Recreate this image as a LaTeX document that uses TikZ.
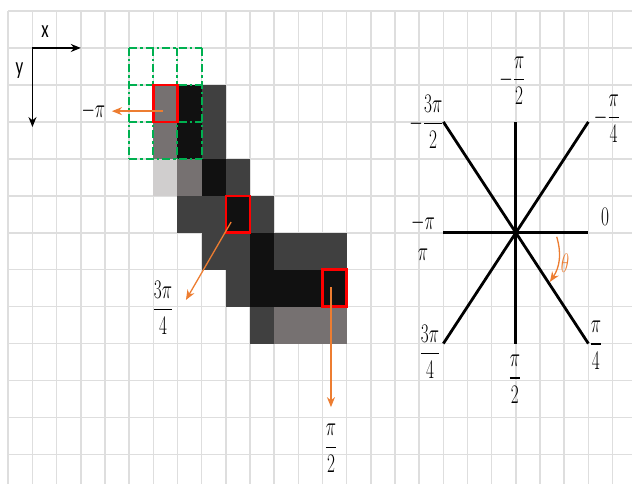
\documentclass[tikz,border=0pt]{standalone}
\usepackage{amsmath}
\usepackage{fontspec}
\newfontfamily\axisfont{Carlito}
\usetikzlibrary{arrows.meta}

\definecolor{pixK}{HTML}{111111}
\definecolor{pixD}{HTML}{404040}
\definecolor{pixM}{HTML}{767171}
\definecolor{pixL}{HTML}{D0CECE}
\definecolor{gridgray}{HTML}{DEDEDE}
\definecolor{boxgreen}{HTML}{00B050}
\definecolor{gradorange}{HTML}{ED7D31}

\begin{document}
\begin{tikzpicture}[x=24.17pt,y=-36.95pt,
  gridline/.style={gridgray,line width=1.6pt},
  win/.style={boxgreen,line width=2pt,dash pattern=on 8pt off 3pt on 2.5pt off 3pt},
  hit/.style={red,line width=2.5pt},
  grad/.style={gradorange,line width=1.3pt,-{Stealth[length=10pt,width=8pt]}},
  axis/.style={line width=1.4pt,-{Stealth[length=10pt,width=8pt]}},
  spoke/.style={line width=2.8pt},
  lbl/.style={font=\fontsize{17}{20}\selectfont,yscale=1.55,inner sep=0pt},
  albl/.style={font=\axisfont\fontsize{17}{20}\selectfont,yscale=1.45,inner sep=0pt}]
  \path[fill=white,use as bounding box] (-0.343,-0.298) rectangle (25.805,12.801);
  % background grid
  \foreach \i in {0,...,25} \draw[gridline] (\i,0) -- (\i,12.801);
  \foreach \j in {0,...,12} \draw[gridline] (0,\j) -- (25.805,\j);
  % image pixels
  \foreach \c/\r in {7/2,7/3,8/4,9/5,10/6,10/7,11/7,12/7,13/7} \fill[pixK] (\c,\r) rectangle ++(1,1);
  \foreach \c/\r in {8/2,8/3,9/4,7/5,8/5,10/5,8/6,9/6,11/6,12/6,13/6,9/7,10/8} \fill[pixD] (\c,\r) rectangle ++(1,1);
  \foreach \c/\r in {6/2,6/3,7/4,11/8,12/8,13/8} \fill[pixM] (\c,\r) rectangle ++(1,1);
  \fill[pixL] (6,4) rectangle ++(1,1);
  % 3x3 window and marked pixels
  \foreach \c in {5,...,8} \draw[win] (\c,1) -- (\c,4);
  \foreach \r in {1,...,4} \draw[win] (5,\r) -- (8,\r);
  \foreach \c/\r in {6/2,9/5,13/7} \draw[hit] (\c,\r) rectangle ++(1,1);
  % image axes
  \coordinate (ax0) at (1,1);
  \coordinate (ax1) at (3,1);
  \coordinate (ay1) at (1,3.14);
  \draw[axis] (ax0) -- (ax1);
  \draw[axis] (ax0) -- (ay1);
  \node[albl] (lx) at (1.52,0.57) {x};
  \node[albl] (ly) at (0.46,1.60) {y};
  % gradient directions
  \coordinate (g1) at (6.4,2.71);   \coordinate (t1) at (4.29,2.71);
  \coordinate (g2) at (9.22,5.71);  \coordinate (t2) at (7.35,7.82);
  \coordinate (g3) at (13.35,7.47); \coordinate (t3) at (13.35,10.72);
  \draw[grad] (g1) -- (t1);
  \draw[grad] (g2) -- (t2);
  \draw[grad] (g3) -- (t3);
  \node[lbl] (l1) at (3.52,2.71) {$-\pi$};
  \node[lbl] (l2) at (6.40,8.04) {$\dfrac{3\pi}{4}$};
  \node[lbl] (l3) at (13.35,11.83) {$\dfrac{\pi}{2}$};
  % direction wheel
  \coordinate (c) at (21,6);
  \coordinate (nw) at (18,3); \coordinate (n) at (21,3); \coordinate (ne) at (24,3);
  \coordinate (w) at (18,6);  \coordinate (e) at (24,6);
  \coordinate (sw) at (18,9); \coordinate (s) at (21,9); \coordinate (se) at (24,9);
  \draw[spoke] (nw) -- (se);
  \draw[spoke] (ne) -- (sw);
  \draw[spoke] (n) -- (s);
  \draw[spoke] (w) -- (e);
  \node[lbl] (lnw) at (17.30,3.00) {$-\dfrac{3\pi}{2}$};
  \node[lbl] (ln) at (20.86,1.89) {$-\dfrac{\pi}{2}$};
  \node[lbl] (lne) at (24.77,2.92) {$-\dfrac{\pi}{4}$};
  \node[lbl] (lw) at (17.16,5.74) {$-\pi$};
  \node[lbl] (lw2) at (17.16,6.60) {$\pi$};
  \node[lbl] (le) at (24.69,5.58) {$0$};
  \node[lbl] (lsw) at (17.45,9.22) {$\dfrac{3\pi}{4}$};
  \node[lbl] (ls) at (20.96,9.96) {$\dfrac{\pi}{2}$};
  \node[lbl] (lse) at (24.31,9.04) {$\dfrac{\pi}{4}$};
  \coordinate (th0) at (22.69,6.11); \coordinate (th1) at (22.41,7.33);
  \draw[grad,bend left=25] (th0) to (th1);
  \node[lbl,gradorange] (lth) at (23.03,6.82) {$\theta$};
\end{tikzpicture}
\end{document}
